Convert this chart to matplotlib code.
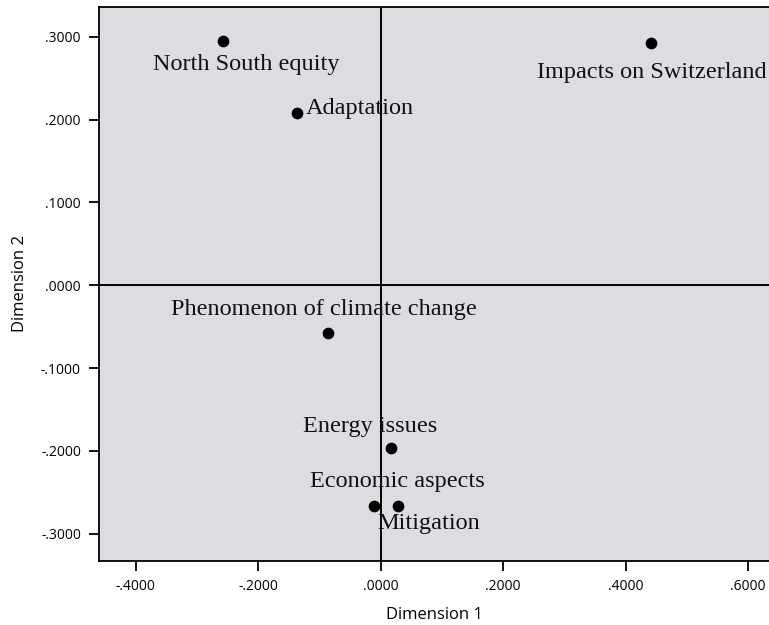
import matplotlib
matplotlib.use("Agg")
import matplotlib.pyplot as plt

labels = ["North South equity", "Adaptation", "Impacts on Switzerland",
          "Phenomenon of climate change", "Energy issues", "Economic aspects", "Mitigation"]
dim1 = [-0.258, -0.136, 0.442, -0.086, 0.017, -0.011, 0.028]
dim2 = [0.295, 0.208, 0.292, -0.058, -0.197, -0.266, -0.266]
xticks = [-0.4, -0.2, 0.0, 0.2, 0.4, 0.6]
yticks = [-0.3, -0.2, -0.1, 0.0, 0.1, 0.2, 0.3]

# label offsets in points (dx, dy) and alignment
offsets = {
    "North South equity": (17, -17, "center", "center"),
    "Adaptation": (6, 3, "left", "center"),
    "Impacts on Switzerland": (0, -21, "center", "center"),
    "Phenomenon of climate change": (-3, 17, "center", "center"),
    "Energy issues": (-15, 16, "center", "center"),
    "Economic aspects": (17, 17, "center", "center"),
    "Mitigation": (22, -13, "center", "center"),
}

fig = plt.figure(figsize=(7.69, 6.25), dpi=100)
ax = fig.add_axes([99/769, 64/625, (769-99)/769, (561-7)/625])
ax.set_facecolor("#dcdde0")
ax.set_xlim(-0.46, 0.634)
ax.set_ylim(-0.333, 0.336)

ax.axhline(0, color="black", lw=1.4, zorder=1)
ax.axvline(0, color="black", lw=1.4, zorder=1)
ax.scatter(dim1, dim2, s=55, color="black", zorder=3)

for lab, x, y in zip(labels, dim1, dim2):
    dx, dy, ha, va = offsets[lab]
    ax.annotate(lab, (x, y), xytext=(dx, dy), textcoords="offset points",
                ha=ha, va=va, fontsize=17.5, family="Liberation Serif", color="#111111", zorder=4)

fmt = lambda v: ("-" if v < 0 else "") + ("%.4f" % abs(v))[1:]
ax.set_xticks(xticks)
ax.set_yticks(yticks)
ax.set_xticklabels([fmt(v) for v in xticks], family="Open Sans", fontsize=10)
ax.set_yticklabels([fmt(v) for v in yticks], family="Open Sans", fontsize=10)
ax.tick_params(direction="out", length=7, width=1.3, color="black", pad=6)
for s in ax.spines.values():
    s.set_linewidth(1.3)
ax.spines["right"].set_visible(False)

ax.set_xlabel("Dimension 1", family="Open Sans", fontsize=12, labelpad=9)
ax.set_ylabel("Dimension 2", family="Open Sans", fontsize=12, labelpad=9)

fig.savefig("out.png", dpi=100)
